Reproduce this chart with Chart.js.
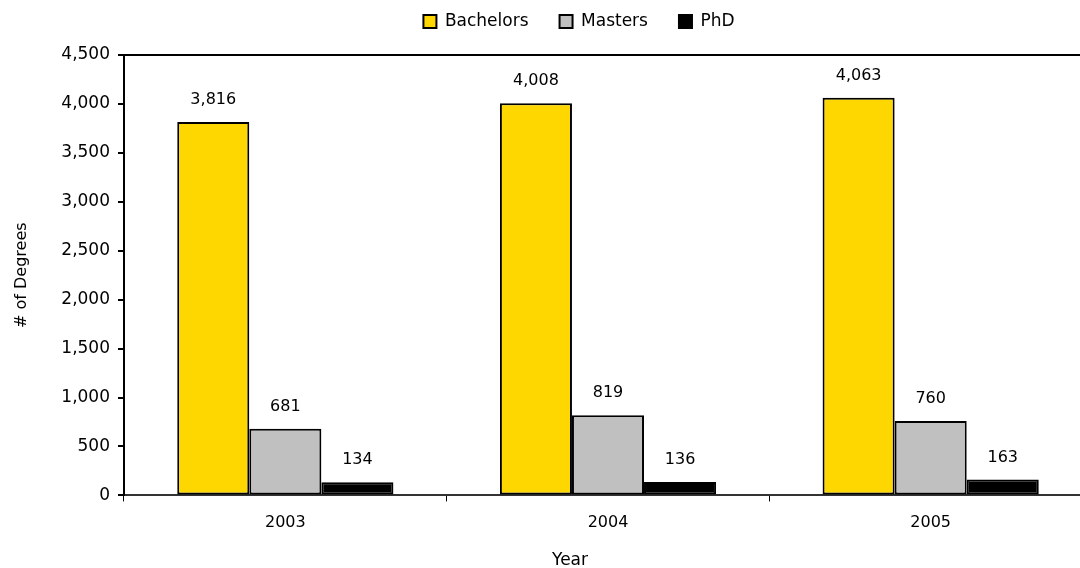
<!DOCTYPE html>
<html>
<head>
<meta charset="utf-8">
<script src="https://cdn.jsdelivr.net/npm/chart.js@4/dist/chart.umd.min.js"></script>
<style>
  html, body { margin: 0; padding: 0; background: #fff; overflow: hidden; }
  #wrap { width: 1158px; height: 568px; }
</style>
</head>
<body>
<div id="wrap"><canvas id="c" width="1158" height="568"></canvas></div>
<script>
// Degrees awarded per year, by level
const years = ['2003', '2004', '2005'];
const bachelors = [3816, 4008, 4063];
const masters = [681, 819, 760];
const phd = [134, 136, 163];
const yTicksMax = 4500;
const yTicksStep = 500;

const FONT = '"DejaVu Sans", Verdana, sans-serif';
const FSIZE = 16;
const LEGEND_HEIGHT = 75;

// Value labels above each bar
const barLabels = {
  id: 'barLabels',
  afterDatasetsDraw(chart) {
    const ctx = chart.ctx;
    ctx.save();
    ctx.font = FSIZE + 'px ' + FONT;
    ctx.fillStyle = '#000';
    ctx.textAlign = 'center';
    ctx.textBaseline = 'middle';
    chart.data.datasets.forEach((ds, i) => {
      chart.getDatasetMeta(i).data.forEach((bar, j) => {
        ctx.fillText(ds.data[j].toLocaleString('en-US'), bar.x, bar.y - 22);
      });
    });
    ctx.restore();
  }
};

// Shift a layout box when it draws (legend and bottom title sit centred on the whole sheet)
function shiftBox(box, dx, dy) {
  if (!box || box._shifted) return;
  const draw = box.draw;
  box.draw = function (...args) {
    const ctx = this.ctx || this.chart.ctx;
    ctx.save();
    ctx.translate(dx, dy);
    draw.apply(this, args);
    ctx.restore();
  };
  box._shifted = true;
}

// Fixed legend band height, so the plot starts a bit below the legend row
const legendBand = {
  id: 'legendBand',
  beforeUpdate(chart) {
    const lg = chart.legend;
    if (lg && !lg._bandPatched) {
      const fit = lg.fit;
      lg.fit = function () {
        fit.call(this);
        this.height = LEGEND_HEIGHT;
        this.minSize = { width: this.width, height: LEGEND_HEIGHT };
      };
      lg._bandPatched = true;
    }
    shiftBox(chart.legend, 33, 2);
    shiftBox(chart.titleBlock, 24, 3);
  }
};

new Chart(document.getElementById('c'), {
  type: 'bar',
  data: {
    labels: years,
    datasets: [
      { label: 'Bachelors', data: bachelors, backgroundColor: '#FFD700', borderColor: '#000', borderWidth: 2 },
      { label: 'Masters', data: masters, backgroundColor: '#C0C0C0', borderColor: '#000', borderWidth: 2 },
      { label: 'PhD', data: phd, backgroundColor: '#000000', borderColor: '#000', borderWidth: 2 }
    ]
  },
  plugins: [barLabels, legendBand],
  options: {
    responsive: false,
    animation: false,
    layout: { padding: { left: 0, right: 66, top: -20, bottom: 0 } },
    datasets: { bar: { categoryPercentage: 0.67, barPercentage: 1.0, borderSkipped: false } },
    plugins: {
      legend: {
        position: 'top',
        labels: {
          font: { family: FONT, size: 17 },
          color: '#000',
          boxWidth: 13,
          boxHeight: 13,
          padding: 31
        }
      },
      title: {
        display: true,
        position: 'bottom',
        text: 'Year',
        color: '#000',
        font: { family: FONT, size: 17, weight: 'normal' },
        padding: { top: 3, bottom: 0 }
      },
      tooltip: { enabled: false }
    },
    scales: {
      x: {
        grid: { display: true, drawOnChartArea: false, drawTicks: true, tickLength: 6, color: '#000', offset: true },
        border: { color: '#333', width: 2 },
        ticks: { color: '#000', font: { family: FONT, size: FSIZE }, padding: 12 }
      },
      y: {
        min: 0,
        max: yTicksMax,
        ticks: { stepSize: yTicksStep, color: '#000', font: { family: FONT, size: 17 }, padding: 8 },
        grid: {
          drawOnChartArea: true,
          drawTicks: true,
          tickLength: 6,
          tickColor: '#000',
          lineWidth: 2,
          color: (c) => (c.tick && c.tick.value === yTicksMax ? '#000' : 'rgba(0,0,0,0)')
        },
        border: { color: '#000', width: 2 },
        title: { display: true, text: '# of Degrees', color: '#000', font: { family: FONT, size: FSIZE }, padding: { top: 12, bottom: 8 } },
        afterFit(scale) { scale.width = 124; }
      }
    }
  }
});
</script>
</body>
</html>
